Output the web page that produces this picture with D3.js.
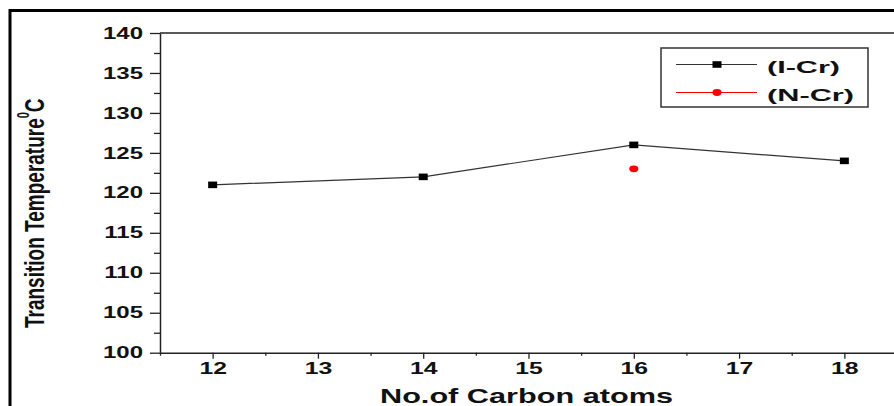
<!DOCTYPE html>
<html>
<head>
<meta charset="utf-8">
<script src="https://cdn.jsdelivr.net/npm/d3@7"></script>
<style>
  body { margin: 0; background: #fff; }
  svg { display: block; }
  text { font-family: "Liberation Sans", Arial, sans-serif; font-weight: bold; fill: #111; }
</style>
</head>
<body>
<div class="chart"></div>
<script>
// data
var carbons = [12, 14, 16, 18];
var iCr = [121, 122, 126, 124];
var nCrX = [16];
var nCr = [123];
var xTicks = [12, 13, 14, 15, 16, 17, 18];
var xMinor = [11.5, 12.5, 13.5, 14.5, 15.5, 16.5, 17.5];
var yTicks = [100, 105, 110, 115, 120, 125, 130, 135, 140];
var yMinor = [102.5, 107.5, 112.5, 117.5, 122.5, 127.5, 132.5, 137.5];
var legendNames = ["(I-Cr)", "(N-Cr)"];

var W = 894, H = 406;
var sx = 1.5; // the picture is stretched sideways

var svg = d3.select(".chart").append("svg")
    .attr("width", W)
    .attr("height", H);

// outer frame, runs off the right and bottom
svg.append("rect")
    .attr("x", 10).attr("y", 10.5)
    .attr("width", 920).attr("height", 440)
    .attr("fill", "none")
    .attr("stroke", "#000")
    .attr("stroke-width", 3);

var x = d3.scaleLinear().domain([11.5, 18.5]).range([160, 897]);
var y = d3.scaleLinear().domain([100, 140]).range([352.7, 33]);

// top border of the plot box
svg.append("line")
    .attr("x1", x(11.5)).attr("x2", x(18.5))
    .attr("y1", y(140)).attr("y2", y(140))
    .attr("stroke", "#222").attr("stroke-width", 1.5);

// minor ticks
svg.append("g")
    .attr("transform", "translate(0," + y(100) + ")")
    .call(d3.axisBottom(x).tickValues(xMinor).tickSize(3).tickFormat(""))
    .call(function(g){ g.select(".domain").remove(); })
    .selectAll("line").attr("stroke", "#222").attr("stroke-width", 1.3);

svg.append("g")
    .attr("transform", "translate(" + x(11.5) + ",0)")
    .call(d3.axisLeft(y).tickValues(yMinor).tickSize(6).tickFormat(""))
    .call(function(g){ g.select(".domain").remove(); })
    .selectAll("line").attr("stroke", "#222").attr("stroke-width", 1.3);

// x axis
var gx = svg.append("g")
    .attr("transform", "translate(0," + y(100) + ")")
    .call(d3.axisBottom(x).tickValues(xTicks).tickFormat(d3.format("d"))
        .tickSize(6).tickSizeOuter(0).tickPadding(10));
gx.select(".domain").attr("stroke", "#222").attr("stroke-width", 1.5);
gx.selectAll(".tick line").attr("stroke", "#222").attr("stroke-width", 1.3);
gx.selectAll(".tick text")
    .attr("font-size", 16.5)
    .attr("font-family", null)
    .attr("fill", "#111")
    .attr("dy", "0.71em")
    .attr("x", function(){ return 0; })
    .attr("y", 10)
    .attr("transform", "scale(" + sx + ",1)");

// y axis
var gy = svg.append("g")
    .attr("transform", "translate(" + x(11.5) + ",0)")
    .call(d3.axisLeft(y).tickValues(yTicks).tickFormat(d3.format("d"))
        .tickSize(10).tickSizeOuter(0).tickPadding(7));
gy.select(".domain").attr("stroke", "#222").attr("stroke-width", 1.5);
gy.selectAll(".tick line").attr("stroke", "#222").attr("stroke-width", 1.3);
gy.selectAll(".tick text")
    .attr("font-size", 16)
    .attr("font-family", null)
    .attr("fill", "#111")
    .attr("x", -17 / sx)
    .attr("transform", "scale(" + sx + ",1)");

// I-Cr line and markers
var line = d3.line()
    .x(function(d, i){ return x(carbons[i]); })
    .y(function(d){ return y(d); });

svg.append("path")
    .datum(iCr)
    .attr("d", line)
    .attr("fill", "none")
    .attr("stroke", "#333")
    .attr("stroke-width", 1.2);

svg.selectAll(".sq")
    .data(iCr)
    .enter().append("rect")
    .attr("class", "sq")
    .attr("x", function(d, i){ return x(carbons[i]) - 4.5; })
    .attr("y", function(d){ return y(d) - 3.3; })
    .attr("width", 9)
    .attr("height", 6.6)
    .attr("fill", "#000");

// N-Cr point
svg.selectAll(".dot")
    .data(nCr)
    .enter().append("ellipse")
    .attr("class", "dot")
    .attr("cx", function(d, i){ return x(nCrX[i]); })
    .attr("cy", function(d){ return y(d); })
    .attr("rx", 4.6)
    .attr("ry", 3.4)
    .attr("fill", "#f00");

// legend
svg.append("rect")
    .attr("x", 661).attr("y", 48)
    .attr("width", 207).attr("height", 59)
    .attr("fill", "#fff")
    .attr("stroke", "#333")
    .attr("stroke-width", 1.5);

var legColors = ["#000", "#f00"];
var legLineCol = ["#333", "#e00"];
var legY = [64.5, 92.5];
var legLen = [73, 87];
legendNames.forEach(function(name, i){
    svg.append("line")
        .attr("x1", 676).attr("x2", 757)
        .attr("y1", legY[i]).attr("y2", legY[i])
        .attr("stroke", legLineCol[i]).attr("stroke-width", 1.1);
    if (i == 0) {
        svg.append("rect")
            .attr("x", 712.5).attr("y", legY[i] - 3.3)
            .attr("width", 9).attr("height", 6.6)
            .attr("fill", legColors[i]);
    } else {
        svg.append("ellipse")
            .attr("cx", 717).attr("cy", legY[i])
            .attr("rx", 4.6).attr("ry", 3.4)
            .attr("fill", legColors[i]);
    }
    svg.append("text")
        .attr("x", 767).attr("y", legY[i] + 8)
        .attr("font-size", 17)
        .attr("textLength", legLen[i])
        .attr("lengthAdjust", "spacingAndGlyphs")
        .text(name);
});

// axis titles
svg.append("text")
    .attr("x", 380).attr("y", 403)
    .attr("font-size", 21)
    .attr("textLength", 293)
    .attr("lengthAdjust", "spacingAndGlyphs")
    .text("No.of Carbon atoms");

var yt = svg.append("text")
    .attr("transform", "translate(43.5,328) rotate(-90) scale(1," + sx + ")")
    .attr("font-size", 19);
yt.append("tspan").text("Transition Temperature");
yt.append("tspan").attr("font-size", 11).attr("dy", -10).text("0");
yt.append("tspan").attr("dy", 10).text("C");
</script>
</body>
</html>
